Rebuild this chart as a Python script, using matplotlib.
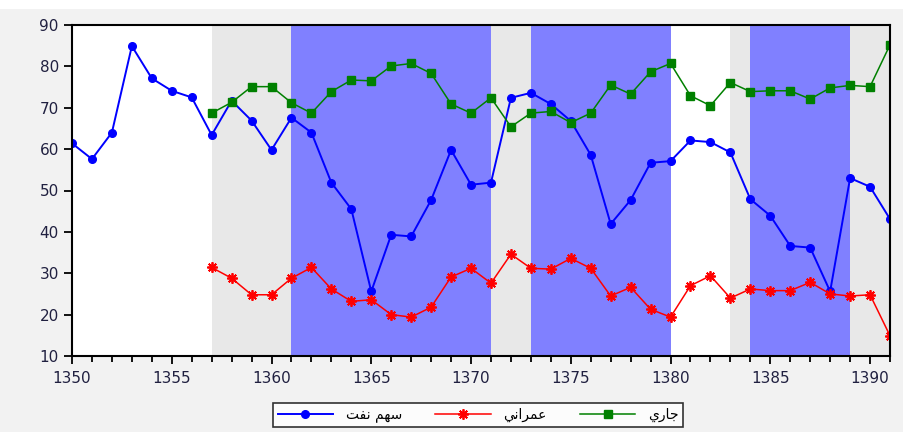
import matplotlib.pyplot as plt
from matplotlib.patches import Rectangle

# années (calendrier persan) 1350..1391
annees = list(range(1350, 1392))

# سهم نفت (bleu)
sahm_naft = [61.4, 57.6, 64.0, 84.9, 77.1, 74.1, 72.5, 63.4, 71.7, 66.9,
             59.8, 67.6, 64.0, 51.9, 45.5, 25.6, 39.3, 38.9, 47.7, 59.8,
             51.4, 51.9, 72.4, 73.6, 70.9, 66.8, 58.6, 41.9, 47.7, 56.7,
             57.1, 62.1, 61.7, 59.2, 47.9, 43.9, 36.6, 36.2, 25.6, 53.0,
             50.9, 43.1]

# عمراني (rouge) et جاري (vert) : à partir de 1357
annees2 = list(range(1357, 1392))
omrani = [31.4, 28.8, 24.8, 24.8, 28.8, 31.4, 26.2, 23.2, 23.6, 20.0,
          19.4, 21.8, 29.1, 31.2, 27.6, 34.6, 31.2, 31.0, 33.6, 31.2,
          24.5, 26.6, 21.3, 19.4, 27.0, 29.4, 24.0, 26.2, 25.8, 25.8,
          27.8, 25.0, 24.5, 24.8, 14.9]
jari = [68.7, 71.3, 75.1, 75.1, 71.2, 68.7, 73.9, 76.7, 76.5, 80.1,
        80.7, 78.3, 70.9, 68.7, 72.4, 65.4, 68.7, 69.1, 66.4, 68.7,
        75.5, 73.3, 78.7, 80.7, 72.9, 70.5, 76.1, 73.9, 74.1, 74.1,
        72.1, 74.8, 75.4, 75.1, 85.2]

# bandes de fond (debut, fin, couleur)
bandes = [(1357, 1361, "#e8e8e8"), (1361, 1371, "#8080ff"),
          (1371, 1373, "#e8e8e8"), (1373, 1380, "#8080ff"),
          (1383, 1384, "#e8e8e8"), (1384, 1389, "#8080ff"),
          (1389, 1391, "#e8e8e8")]

# libellés arabes en formes de présentation, ordre visuel
lab_naft = "\uFE96\uFED4\uFEE7 \uFEE2\uFEEC\uFEB3"
lab_omrani = "\uFEF2\uFEE7\uFE8D\uFEAE\uFEE4\uFECB"
lab_jari = "\uFEF1\uFEAD\uFE8E\uFE9F"

fig = plt.figure(figsize=(9.04, 4.32), dpi=100, facecolor="#f2f2f2")
fig.patches.append(Rectangle((0, 1 - 9/432), 1, 9/432, transform=fig.transFigure,
                             facecolor="white", edgecolor="none"))
ax = fig.add_axes([72/904, 1 - 356/432, (890-72)/904, (356-25)/432])

for debut, fin, couleur in bandes:
    ax.axvspan(debut, fin, color=couleur, lw=0, zorder=0)

ax.plot(annees, sahm_naft, color="blue", marker="o", ms=5.5, lw=1.4, label=lab_naft)
ax.plot(annees2, omrani, color="red", marker=(8, 2, 0), ms=7.5, mew=1.3, lw=1.1, label=lab_omrani)
ax.plot(annees2, jari, color="green", marker="s", ms=5.5, lw=1.1, label=lab_jari)

ax.set_xlim(1350, 1391)
ax.set_ylim(10, 90)
ax.set_xticks(range(1350, 1391, 5))
ax.set_xticks(range(1350, 1392), minor=True)
ax.set_yticks(range(10, 91, 10))
ax.tick_params(axis="both", which="major", direction="out", length=6, width=1.3,
               labelsize=11, labelcolor="#202040")
ax.tick_params(axis="x", which="major", pad=5)
ax.tick_params(axis="x", which="minor", direction="out", length=4, width=1.3)
for s in ax.spines.values():
    s.set_linewidth(1.5)

leg = ax.legend(loc="center", bbox_to_anchor=(478/904, 1 - 415/432),
                bbox_transform=fig.transFigure, ncol=3, fontsize=10,
                handlelength=4.0, handletextpad=0.9, columnspacing=2.4,
                frameon=True, fancybox=False, borderpad=0.3, borderaxespad=0.0)
leg.get_frame().set_edgecolor("black")
leg.get_frame().set_linewidth(1.2)

plt.savefig("out.png", dpi=100, facecolor=fig.get_facecolor())
